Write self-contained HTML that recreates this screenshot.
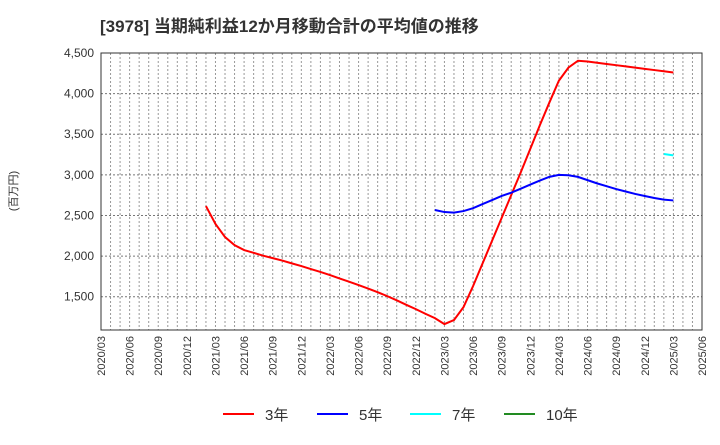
<!DOCTYPE html>
<html><head><meta charset="utf-8"><style>
body{margin:0;background:#fff}
svg text{font-family:"Liberation Sans","Noto Sans CJK JP",sans-serif;fill:#333}
</style></head><body>
<svg id="c" width="720" height="440"></svg>
<script>
const startMonths = {r:11, b:35, c:59};
const red = [2616,2395,2234,2135,2074,2040,2005,1975,1945,1910,1877,1840,1805,1766,1725,1685,1643,1600,1555,1507,1455,1400,1347,1290,1236,1163,1212,1372,1630,1910,2190,2470,2750,3030,3320,3610,3890,4160,4320,4405,4395,4380,4365,4350,4335,4320,4305,4290,4275,4260];
const blue = [2567,2542,2535,2554,2590,2640,2690,2740,2780,2830,2880,2930,2975,3000,2995,2975,2935,2895,2860,2825,2795,2765,2740,2715,2695,2685];
const cyan = [3256,3240];
const yTicks = [1500,2000,2500,3000,3500,4000,4500];
const xLabels = ["2020/03","2020/06","2020/09","2020/12","2021/03","2021/06","2021/09","2021/12","2022/03","2022/06","2022/09","2022/12","2023/03","2023/06","2023/09","2023/12","2024/03","2024/06","2024/09","2024/12","2025/03","2025/06"];
const L=101,R=702,T=53,B=330,NM=63,YMIN=1090,YMAX=4500;
const X=m=>L+(R-L)*m/NM, Y=v=>B-(B-T)*(v-YMIN)/(YMAX-YMIN);
const svg=document.getElementById('c'),NS='http://www.w3.org/2000/svg';
function mk(t,a,p){const e=document.createElementNS(NS,t);for(const k in a)e.setAttribute(k,a[k]);(p||svg).appendChild(e);return e;}
let t=mk('text',{x:100,y:32,'font-size':17,'font-weight':'bold'});t.textContent='[3978]  当期純利益12か月移動合計の平均値の推移';


for(let m=1;m<NM;m++){const l=mk('line',{x1:X(m),x2:X(m),y1:T,y2:B,stroke:'#999','stroke-dasharray':'2,2','stroke-width':1});

}
yTicks.forEach(v=>{const l=mk('line',{x1:L,x2:R,y1:Y(v),y2:Y(v),stroke:'#777','stroke-dasharray':'2,2','stroke-width':1});


const tx=mk('text',{x:94,y:Y(v)+4,'text-anchor':'end','font-size':12});tx.textContent=v.toLocaleString('en-US');

});
xLabels.forEach((s,i)=>{const x=X(i*3);const tx=mk('text',{x:0,y:0,'text-anchor':'end','font-size':11,transform:`translate(${x+4},336) rotate(-90)`});tx.textContent=s;

});
const yl=mk('text',{x:0,y:0,'text-anchor':'middle','font-size':11,transform:'translate(17,191) rotate(-90)'});yl.textContent='(百万円)';


const fr=mk('rect',{x:L,y:T,width:R-L,height:B-T,fill:'none',stroke:'#333','stroke-width':1});


function series(d,s,col,name){const p=mk('polyline',{points:d.map((v,i)=>X(s+i)+','+Y(v)).join(' '),fill:'none',stroke:col,'stroke-width':2});

}
series(red,startMonths.r,'#f00','series-3y');
series(blue,startMonths.b,'#00f','series-5y');
series(cyan,startMonths.c,'#0ff','series-7y');
[['3年','#f00',223],['5年','#00f',317],['7年','#0ff',410],['10年','#228b22',504]].forEach(([n,c,x])=>{
const g=mk('g',{});


mk('line',{x1:x,x2:x+31,y1:414,y2:414,stroke:c,'stroke-width':2},g);
const tx=mk('text',{x:x+42,y:420,'font-size':15},g);tx.textContent=n;});
</script></body></html>
